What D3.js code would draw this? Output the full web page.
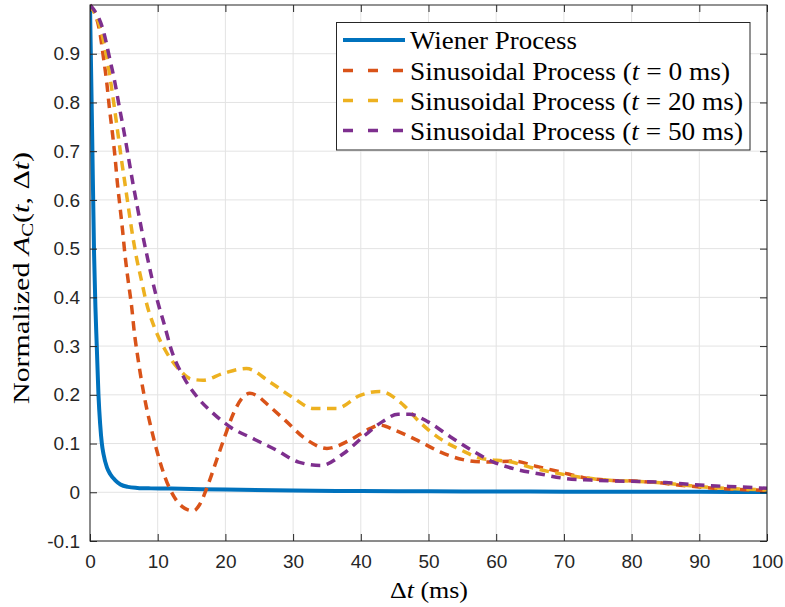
<!DOCTYPE html>
<html>
<head>
<meta charset="utf-8">
<script src="https://cdn.jsdelivr.net/npm/d3@7"></script>
<style>
  html, body { margin: 0; padding: 0; background: #fff; }
  svg { display: block; }
</style>
</head>
<body>
<svg id="chart" width="785" height="607"></svg>
<script>
// ---------- data ----------
const xTicks = [0, 10, 20, 30, 40, 50, 60, 70, 80, 90, 100];
const yTicks = [-0.1, 0, 0.1, 0.2, 0.3, 0.4, 0.5, 0.6, 0.7, 0.8, 0.9];
const yTickLabels = ["-0.1", "0", "0.1", "0.2", "0.3", "0.4", "0.5", "0.6", "0.7", "0.8", "0.9"];

const seriesNames = ["Wiener Process", "Sinusoidal Process (t = 0 ms)", "Sinusoidal Process (t = 20 ms)", "Sinusoidal Process (t = 50 ms)"];
const legendPrefix = ["Wiener Process", "Sinusoidal Process (", "Sinusoidal Process (", "Sinusoidal Process ("];
const legendSuffix = ["", " = 0 ms)", " = 20 ms)", " = 50 ms)"];

const wienerT = [0, 0.3, 0.6, 0.8, 1, 1.25, 1.5, 1.75, 2, 2.5, 3, 3.7, 4.5, 5.6, 7, 9, 12, 20, 30, 40, 50, 60, 70, 80, 90, 100];
const wienerV = [1, 0.75, 0.49, 0.38, 0.30, 0.20, 0.14, 0.10, 0.078, 0.051, 0.037, 0.025, 0.016, 0.011, 0.009, 0.008, 0.0075, 0.0055, 0.0035, 0.0025, 0.002, 0.0016, 0.0013, 0.001, 0.0009, 0.0007];

const sin0T = [0, 1.48, 1.97, 2.46, 2.85, 3.29, 3.69, 4.03, 4.43, 4.83, 5.17, 5.66, 6.16, 6.54, 7.05, 7.64, 8.27, 9.11, 10.0, 11.08, 12.45, 14.0, 15.3, 16.2, 17.5, 18.7, 19.9, 21.2, 22.4, 23.6, 24.8, 26.3, 28.8, 31.8, 35.0, 38.4, 41.4, 42.8, 45.1, 48.3, 51.7, 55.1, 58.6, 62.5, 66, 69.4, 72.9, 76.3, 80.3, 83.7, 87.6, 91.6, 95.3, 100];
const sin0V = [1.0, 0.942, 0.894, 0.843, 0.791, 0.740, 0.689, 0.637, 0.586, 0.535, 0.487, 0.432, 0.38, 0.329, 0.278, 0.226, 0.179, 0.127, 0.079, 0.031, -0.01, -0.033, -0.038, -0.025, 0.018, 0.066, 0.114, 0.162, 0.192, 0.203, 0.197, 0.179, 0.148, 0.110, 0.090, 0.107, 0.131, 0.138, 0.127, 0.107, 0.083, 0.067, 0.062, 0.064, 0.053, 0.042, 0.030, 0.025, 0.023, 0.020, 0.014, 0.009, 0.006, 0.004];

const sin20T = [0, 1.73, 2.46, 3.05, 3.59, 4.09, 4.58, 5.13, 5.66, 6.2, 6.79, 7.6, 8.37, 9.5, 11.1, 13.3, 15, 16.7, 19.7, 23.1, 26.6, 30, 33, 36.4, 39.9, 42.8, 46.3, 48.7, 51.7, 54.9, 57.6, 62.3, 65.7, 69.4, 72.9, 76.3, 80, 83.7, 87.6, 91.6, 95.3, 100];
const sin20V = [1.0, 0.942, 0.894, 0.843, 0.791, 0.740, 0.689, 0.637, 0.586, 0.535, 0.487, 0.435, 0.387, 0.339, 0.292, 0.25, 0.232, 0.23, 0.244, 0.254, 0.226, 0.194, 0.172, 0.172, 0.199, 0.207, 0.179, 0.144, 0.110, 0.086, 0.07, 0.062, 0.049, 0.038, 0.030, 0.025, 0.023, 0.020, 0.015, 0.010, 0.007, 0.005];

const sin50T = [0, 2.07, 2.85, 3.65, 4.33, 5.02, 5.66, 6.3, 6.99, 7.68, 8.37, 9.1, 10, 11, 12, 13.8, 15.8, 18.2, 20.7, 24.1, 27.6, 30.8, 34.1, 37.4, 40.6, 43.2, 45.5, 47.2, 50, 53.2, 56.4, 59.6, 63, 66.7, 70.3, 74, 77.6, 81.2, 85, 88.7, 92.5, 96.1, 100];
const sin50V = [1.0, 0.942, 0.894, 0.843, 0.791, 0.740, 0.689, 0.637, 0.586, 0.535, 0.489, 0.442, 0.391, 0.343, 0.293, 0.237, 0.196, 0.162, 0.134, 0.110, 0.086, 0.062, 0.055, 0.079, 0.117, 0.145, 0.16, 0.16, 0.144, 0.114, 0.086, 0.062, 0.047, 0.037, 0.028, 0.025, 0.023, 0.022, 0.020, 0.016, 0.013, 0.011, 0.008];

const colors = ["#0072BD", "#D95319", "#EDB120", "#7E2F8E"];

// ---------- layout ----------
const svg = d3.select("#chart");
const L = 90, R = 767, T = 5, B = 541;
const x = d3.scaleLinear().domain([0, 100]).range([L, R]);
const y = d3.scaleLinear().domain([-0.1, 1.0]).range([B, T]);
const axisColor = "#262626";
const tickFont = "'Liberation Sans', Arial, Helvetica, sans-serif";
const serif = "'Liberation Serif', 'Times New Roman', serif";

// grid
const grid = svg.append("g");
grid.selectAll("line.gx").data(xTicks).join("line")
  .attr("x1", d => x(d)).attr("x2", d => x(d)).attr("y1", T).attr("y2", B)
  .attr("stroke", "#e3e3e3").attr("stroke-width", 1);
grid.selectAll("line.gy").data(yTicks).join("line")
  .attr("x1", L).attr("x2", R).attr("y1", d => y(d)).attr("y2", d => y(d))
  .attr("stroke", "#e3e3e3").attr("stroke-width", 1);

// axes using d3 axes (inward ticks)
const xAxisB = d3.axisBottom(x).tickValues(xTicks).tickSize(-7).tickPadding(14).tickFormat(d3.format("d"));
const xAxisT = d3.axisTop(x).tickValues(xTicks).tickSize(-7).tickFormat("");
const yAxisL = d3.axisLeft(y).tickValues(yTicks).tickSize(-7).tickPadding(10).tickFormat((d, i) => yTickLabels[i]);
const yAxisR = d3.axisRight(y).tickValues(yTicks).tickSize(-7).tickFormat("");

function styleAxis(g) {
  g.select(".domain").remove();
  g.selectAll(".tick line").attr("stroke", axisColor).attr("stroke-width", 1);
  g.selectAll(".tick text").attr("fill", axisColor).style("font-family", tickFont).style("font-size", "19px");
}

// data lines
const line = d3.line().x(d => x(d[0])).y(d => y(d[1])).curve(d3.curveMonotoneX);
const zip = (a, b) => a.map((t, i) => [t, b[i]]);
const series = [zip(wienerT, wienerV), zip(sin0T, sin0V), zip(sin20T, sin20V), zip(sin50T, sin50V)];

svg.append("defs").append("clipPath").attr("id", "clip")
  .append("rect").attr("x", L).attr("y", T - 3).attr("width", R - L).attr("height", B - T + 3);

const lines = svg.append("g").attr("clip-path", "url(#clip)");
series.forEach((s, i) => {
  lines.append("path").datum(s)
    .attr("d", line)
    .attr("fill", "none")
    .attr("stroke", colors[i])
    .attr("stroke-width", i === 0 ? 4 : 3.5)
    .attr("stroke-dasharray", i === 0 ? null : "9.5,6.5")
    .attr("stroke-linejoin", "round");
});

svg.append("g").attr("transform", `translate(0,${B})`).call(xAxisB).call(styleAxis);
svg.append("g").attr("transform", `translate(0,${T})`).call(xAxisT).call(styleAxis);
svg.append("g").attr("transform", `translate(${L},0)`).call(yAxisL).call(styleAxis);
svg.append("g").attr("transform", `translate(${R},0)`).call(yAxisR).call(styleAxis);

// box
svg.append("rect").attr("x", L).attr("y", T).attr("width", R - L).attr("height", B - T)
  .attr("fill", "none").attr("stroke", axisColor).attr("stroke-width", 1);

// x label
const xl = svg.append("text").attr("x", 429).attr("y", 598).attr("text-anchor", "middle")
  .attr("fill", "#000").style("font-family", serif).style("font-size", "23px")
  .attr("textLength", 78).attr("lengthAdjust", "spacingAndGlyphs");
xl.append("tspan").text("Δ");
xl.append("tspan").style("font-style", "italic").text("t");
xl.append("tspan").text(" (ms)");

// y label
const yl = svg.append("text").attr("transform", "translate(29,278) rotate(-90)").attr("text-anchor", "middle")
  .attr("fill", "#000").style("font-family", serif).style("font-size", "23px")
  .attr("textLength", 252).attr("lengthAdjust", "spacingAndGlyphs");
yl.append("tspan").text("Normalized ");
yl.append("tspan").style("font-style", "italic").text("A");
yl.append("tspan").attr("dy", 4).style("font-size", "16px").text("C");
yl.append("tspan").attr("dy", -4).text("(");
yl.append("tspan").style("font-style", "italic").text("t");
yl.append("tspan").text(", Δ");
yl.append("tspan").style("font-style", "italic").text("t");
yl.append("tspan").text(")");

// legend
const lg = svg.append("g");
lg.append("rect").attr("x", 336.5).attr("y", 22.5).attr("width", 413.5).attr("height", 127.5)
  .attr("fill", "#fff").attr("stroke", axisColor).attr("stroke-width", 1);
const rowY = [40, 70.5, 100.5, 130.5];
const rowW = [167, 320, 333, 333];
seriesNames.forEach((name, i) => {
  lg.append("line").attr("x1", 343).attr("x2", 405).attr("y1", rowY[i]).attr("y2", rowY[i])
    .attr("stroke", colors[i]).attr("stroke-width", i === 0 ? 4 : 3.5)
    .attr("stroke-dasharray", i === 0 ? null : "10,15");
  const t = lg.append("text").attr("x", 410).attr("y", rowY[i]).attr("dy", "0.35em")
    .attr("fill", "#000").style("font-family", serif).style("font-size", "26px")
    .attr("textLength", rowW[i]).attr("lengthAdjust", "spacingAndGlyphs");
  t.append("tspan").text(legendPrefix[i]);
  if (i > 0) {
    t.append("tspan").style("font-style", "italic").text("t");
    t.append("tspan").text(legendSuffix[i]);
  }
});
</script>
</body>
</html>
